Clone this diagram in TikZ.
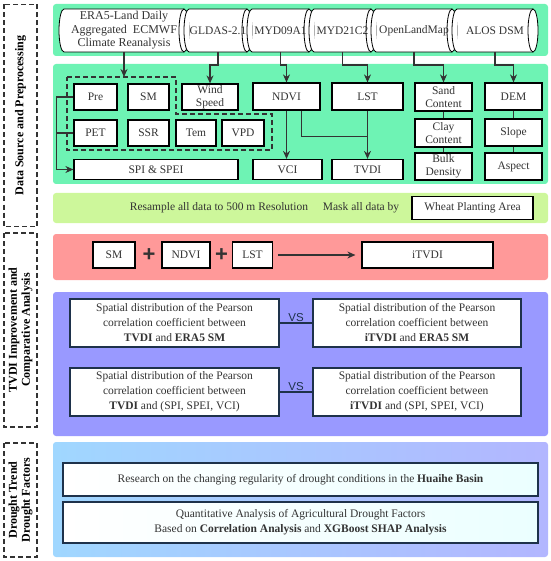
\documentclass[tikz,border=0pt]{standalone}
\usepackage{fontspec}
\setmainfont{Liberation Serif}
\newfontfamily\vsfont{Liberation Sans}
\usepackage{tikz}
\usetikzlibrary{positioning, arrows.meta}
\tikzstyle{arrow} = [line width=1.1pt, -{Stealth[length=8pt,width=7pt]}, draw=black!80]
\tikzstyle{line} = [line width=1.1pt, draw=black!80]
\tikzstyle{cylline} = [line width=0.8pt, draw=black]
\definecolor{mint}{RGB}{110,243,180}
\definecolor{lime}{RGB}{205,247,155}
\definecolor{rose}{RGB}{255,153,153}
\definecolor{lilac}{RGB}{153,153,255}
\definecolor{sky1}{RGB}{160,215,255}
\definecolor{sky2}{RGB}{178,182,255}
\definecolor{navy}{RGB}{30,50,75}
\definecolor{pale}{RGB}{235,255,255}
\newcommand{\fsz}[2]{\fontsize{#1}{#2}\selectfont}
% rounded ends of a data-source drum
\newcommand{\cylends}[1]{%
	\fill[white] (#1.south west) arc[start angle=270, end angle=90, x radius=5pt, y radius=21.5pt] -- cycle;
	\draw[cylline] (#1.south east) -- (#1.south west)
	arc[start angle=270, end angle=90, x radius=5pt, y radius=21.5pt] -- (#1.north east);
	\fill[white] (#1.north east) arc[start angle=90, end angle=-90, x radius=5pt, y radius=21.5pt] -- cycle;
	\draw[cylline] (#1.east) ellipse[x radius=5pt, y radius=21.5pt];
}

\begin{document}
\begin{tikzpicture}[x=1pt, y=-1pt,
				cyl/.style={fill=white, inner sep=0pt, outer sep=0pt, minimum height=43pt,
					align=center, text=black!80, font=\fsz{11.5}{13.5}},
				box/.style={draw=black, fill=white, line width=1.2pt, inner sep=0pt,
					align=center, text=black!80, font=\fsz{11.5}{13}},
				pbox/.style={draw=navy, fill=white, line width=1.1pt, inner sep=0pt, align=center,
					text=black!80, font=\fsz{11.5}{15}, minimum width=209pt, minimum height=48pt},
				qbox/.style={draw=navy, left color=white, right color=pale, line width=1.5pt,
					inner sep=0pt, align=center, text=black!80, font=\fsz{11.5}{15},
					minimum width=475pt},
				side/.style={dsh, rotate=90, align=center, font=\bfseries\fsz{12}{13},
					minimum height=33pt, inner sep=0pt},
				dsh/.style={draw=black!80, line width=1.1pt, dash pattern=on 5pt off 3pt},
				txt/.style={text=black!80, font=\fsz{11.5}{13}},
				plus/.style={text=black!80, font=\vsfont\bfseries\fsz{22}{22}},
				vs/.style={text=navy, font=\vsfont\fsz{11.5}{12}, inner sep=1pt},
				panel/.style={rounded corners=3pt}]
				\useasboundingbox (0,0) rectangle (550,561);
				
				%% ── panels ──
				\fill[mint, panel] (53,4) rectangle (548,56);
				\fill[mint, panel] (53,64) rectangle (548,184);
				\fill[lime, panel] (53,193) rectangle (548,223);
				\fill[rose, panel] (53,234) rectangle (548,280);
				\fill[lilac, panel] (53,292) rectangle (548,436);
				\shade[panel, left color=sky1, right color=sky2] (53,442) rectangle (548,557);
				
				%% ── stage labels ──
				\node[side, minimum width=222pt] (s1) at (20.5,115.5) {Data Source and Preprocessing};
				\node[side, minimum width=194pt] (s2) at (20.5,330) {TVDI Improvement and\\Comparative Analysis};
				\node[side, minimum width=114pt] (s3) at (20.5,500) {Drought Trend\\Drought Factors};
				
				%% ── data sources ──
				\node[cyl, minimum width=120pt, font=\fsz{12}{13.5}] (era) at (124,30.5)
				{ERA5-Land Daily\\Aggregated\ \ ECMWF\\Climate Reanalysis};
				\node[cyl, minimum width=58pt, right=5pt of era] (gldas) {GLDAS-2.1};
				\node[cyl, minimum width=57pt, right=5pt of gldas] (myd09) {MYD09A1};
				\node[cyl, minimum width=57pt, right=5pt of myd09] (myd21) {MYD21C2};
				\node[cyl, minimum width=76pt, right=5pt of myd21] (olm) {OpenLandMap};
				\node[cyl, minimum width=76pt, right=5pt of olm] (alos) {ALOS DSM};
				\foreach \c in {era, gldas, myd09, myd21, olm, alos} {\cylends{\c}}
				
				%% ── meteorological group ──
				\coordinate (grp) at (67,77);
				\draw[dsh] (grp) -- (176,77) -- (176,114) -- (272,114) -- (272,150) -- (67,150) -- cycle;
				
				%% ── variables ──
				\node[box, minimum width=43pt, minimum height=26pt] (pre) at (95.5,97) {Pre};
				\node[box, minimum width=41pt, minimum height=26pt] (sm) at (148.5,97) {SM};
				\node[box, minimum width=56pt, minimum height=26pt] (wind) at (210,97) {Wind\\Speed};
				\node[box, minimum width=67pt, minimum height=27pt] (ndvi) at (286.5,96.5) {NDVI};
				\node[box, minimum width=71pt, minimum height=27pt] (lst) at (367.5,96.5) {LST};
				\node[box, minimum width=57pt, minimum height=28pt] (sand) at (443.5,97) {Sand\\Content};
				\node[box, minimum width=57pt, minimum height=27pt] (dem) at (513.5,96.5) {DEM};
				
				\node[box, minimum width=43pt, minimum height=26pt] (pet) at (95.5,133) {PET};
				\node[box, minimum width=41pt, minimum height=26pt] (ssr) at (148.5,133) {SSR};
				\node[box, minimum width=40pt, minimum height=26pt] (tem) at (196,133) {Tem};
				\node[box, minimum width=42pt, minimum height=26pt] (vpd) at (243,133) {VPD};
				\node[box, minimum width=57pt, minimum height=28pt] (clay) at (443.5,133) {Clay\\Content};
				\node[box, minimum width=57pt, minimum height=27pt] (slope) at (513.5,132.5) {Slope};
				
				\node[box, minimum width=164pt, minimum height=20pt] (spi) at (156,169.5) {SPI \& SPEI};
				\node[box, minimum width=69pt, minimum height=20pt] (vci) at (287.5,169.5) {VCI};
				\node[box, minimum width=71pt, minimum height=20pt] (tvdi) at (367.5,169.5) {TVDI};
				\node[box, minimum width=57pt, minimum height=27pt] (bulk) at (443.5,166.5) {Bulk\\Density};
				\node[box, minimum width=57pt, minimum height=27pt] (asp) at (513.5,166.5) {Aspect};
				
				%% ── source connectors ──
				\draw[arrow] (era.south) -- (era.south |- grp);
				\foreach \s/\t in {gldas/wind, myd09/ndvi, myd21/lst, olm/sand, alos/dem}
				\draw[arrow] (\s.south) -- ++(0,13) -| (\t.north);
				
				%% ── derived indices ──
				\draw[arrow] (pre.west) -- ++(-17,0) |- (spi.west);
				\draw[line] (pet.west) -- ++(-17,0);
				\draw[arrow] (ndvi.south) -- (ndvi.south |- vci.north);
				\draw[line] ([xshift=15pt]ndvi.south) |- ([yshift=-26pt]lst.south);
				\draw[arrow] (lst.south) -- (tvdi.north);
				\draw[line, line width=0.8pt] (sand) -- (clay) -- (bulk);
				\draw[line, line width=0.8pt] (dem) -- (slope) -- (asp);
				
				%% ── resampling ──
				\node[txt] (resamp) at (219,207.5) {Resample all data to 500 m Resolution};
				\node[txt] (mask) at (361,207.5) {Mask all data by};
				\node[box, minimum width=121pt, minimum height=23pt] (wheat) at (472.5,208) {Wheat Planting Area};
				
				%% ── iTVDI ──
				\node[box, minimum width=42pt, minimum height=26pt] (sm2) at (114,255) {SM};
				\node[plus] (p1) at (149,255) {+};
				\node[box, minimum width=48pt, minimum height=26pt] (ndvi2) at (186,255) {NDVI};
				\node[plus] (p2) at (221.5,255) {+};
				\node[box, minimum width=40pt, minimum height=26pt] (lst2) at (252.5,255) {LST};
				\node[box, minimum width=131pt, minimum height=26pt] (itvdi) at (427.5,255) {iTVDI};
				\draw[arrow, shorten <=5pt, shorten >=6pt] (lst2) -- (itvdi);
				
				%% ── comparison ──
				\node[pbox] (pa) at (174.5,323)
				{Spatial distribution of the Pearson\\correlation coefficient between\\\textbf{TVDI} and \textbf{ERA5 SM}};
				\node[pbox, minimum width=208pt] (pb) at (417,323)
				{Spatial distribution of the Pearson\\correlation coefficient between\\\textbf{iTVDI} and \textbf{ERA5 SM}};
				\node[pbox] (pc) at (174.5,392)
				{Spatial distribution of the Pearson\\correlation coefficient between\\\textbf{TVDI} and (SPI, SPEI, VCI)};
				\node[pbox, minimum width=208pt] (pd) at (417,392)
				{Spatial distribution of the Pearson\\correlation coefficient between\\\textbf{iTVDI} and (SPI, SPEI, VCI)};
				\draw[navy, line width=1.1pt] (pa) -- (pb) node[vs, midway, above] (vs1) {VS};
				\draw[navy, line width=1.1pt] (pc) -- (pd) node[vs, midway, above] (vs2) {VS};
				
				%% ── drought analysis ──
				\node[qbox, minimum height=33pt] (qa) at (300.5,479.5)
				{Research on the changing regularity of drought conditions in the \textbf{Huaihe Basin}};
				\node[qbox, minimum height=41pt] (qb) at (300.5,522.5)
				{Quantitative Analysis of Agricultural Drought Factors\\Based on \textbf{Correlation Analysis} and \textbf{XGBoost SHAP Analysis}};
				
		\end{tikzpicture}
\end{document}
